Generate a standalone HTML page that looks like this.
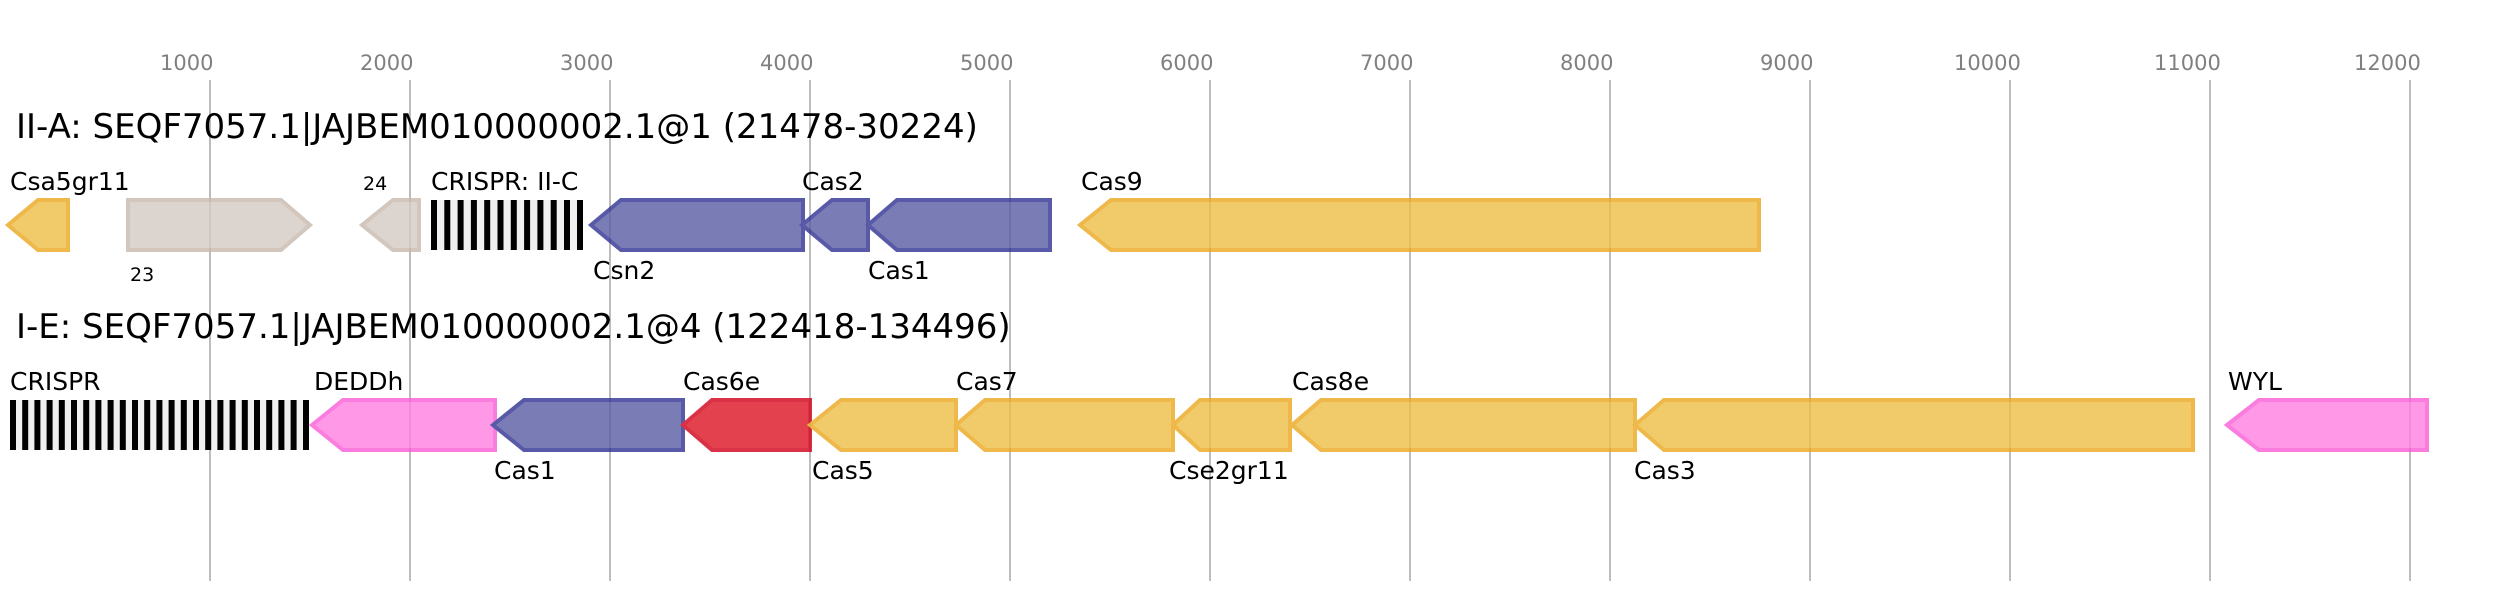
<!DOCTYPE html>
<html><head><meta charset="utf-8"><style>
html,body{margin:0;padding:0;background:#fff;}
svg{display:block;}
text{font-family:"DejaVu Sans","Liberation Sans",sans-serif;}
</style></head><body>
<svg width="2516" height="600" viewBox="0 0 2516 600" xmlns="http://www.w3.org/2000/svg">
<g stroke="#bdbdbd" stroke-width="2">
<line x1="210" y1="80" x2="210" y2="581"/><line x1="410" y1="80" x2="410" y2="581"/>
<line x1="610" y1="80" x2="610" y2="581"/><line x1="810" y1="80" x2="810" y2="581"/>
<line x1="1010" y1="80" x2="1010" y2="581"/><line x1="1210" y1="80" x2="1210" y2="581"/>
<line x1="1410" y1="80" x2="1410" y2="581"/><line x1="1610" y1="80" x2="1610" y2="581"/>
<line x1="1810" y1="80" x2="1810" y2="581"/><line x1="2010" y1="80" x2="2010" y2="581"/>
<line x1="2210" y1="80" x2="2210" y2="581"/><line x1="2410" y1="80" x2="2410" y2="581"/>
</g>
<g fill="#808080" font-size="21">
<text x="160" y="70">1000</text><text x="360" y="70">2000</text><text x="560" y="70">3000</text>
<text x="760" y="70">4000</text><text x="960" y="70">5000</text><text x="1160" y="70">6000</text>
<text x="1360" y="70">7000</text><text x="1560" y="70">8000</text><text x="1760" y="70">9000</text>
<text x="1954" y="70">10000</text><text x="2154" y="70">11000</text><text x="2354" y="70">12000</text>
</g>
<text x="16" y="138" font-size="34" fill="#000">II-A: SEQF7057.1|JAJBEM010000002.1@1 (21478-30224)</text>
<text x="16" y="338" font-size="34" fill="#000">I-E: SEQF7057.1|JAJBEM010000002.1@4 (122418-134496)</text>
<g stroke-width="4" opacity="0.8">
<!-- row 1 -->
<polygon points="8,225 38,200 68,200 68,250 38,250" fill="#eebd46" stroke="#eba81d"/>
<polygon points="128,200 281,200 310,225 281,250 128,250" fill="#d4cac4" stroke="#c8b9ad"/>
<polygon points="362,225 393,200 419,200 419,250 393,250" fill="#d4cac4" stroke="#c8b9ad"/>
<polygon points="591,225 621,200 803,200 803,250 621,250" fill="#5a5ca3" stroke="#2f3293"/>
<polygon points="802,225 832,200 868,200 868,250 832,250" fill="#5a5ca3" stroke="#2f3293"/>
<polygon points="868,225 897,200 1050,200 1050,250 897,250" fill="#5a5ca3" stroke="#2f3293"/>
<polygon points="1080,225 1111,200 1759,200 1759,250 1111,250" fill="#eebd46" stroke="#eba81d"/>
<!-- row 2 -->
<polygon points="312,425 343,400 495,400 495,450 343,450" fill="#fe7fe2" stroke="#fb5cd8"/>
<polygon points="493,425 524,400 683,400 683,450 524,450" fill="#5a5ca3" stroke="#2f3293"/>
<polygon points="683,425 712,400 810,400 810,450 712,450" fill="#de1223" stroke="#d00018"/>
<polygon points="810,425 841,400 956,400 956,450 841,450" fill="#eebd46" stroke="#eba81d"/>
<polygon points="956,425 985,400 1173,400 1173,450 985,450" fill="#eebd46" stroke="#eba81d"/>
<polygon points="1173,425 1200,400 1290,400 1290,450 1200,450" fill="#eebd46" stroke="#eba81d"/>
<polygon points="1292,425 1321,400 1635,400 1635,450 1321,450" fill="#eebd46" stroke="#eba81d"/>
<polygon points="1635,425 1664,400 2193,400 2193,450 1664,450" fill="#eebd46" stroke="#eba81d"/>
<polygon points="2227,425 2259,400 2427,400 2427,450 2259,450" fill="#fe7fe2" stroke="#fb5cd8"/>
</g>
<!-- CRISPR arrays -->
<rect x="431" y="200" width="152" height="50" fill="#f0f0f0"/>
<g fill="#000">
<rect x="431" y="200" width="6" height="50"/><rect x="444.3" y="200" width="6" height="50"/>
<rect x="457.6" y="200" width="6" height="50"/><rect x="470.9" y="200" width="6" height="50"/>
<rect x="484.2" y="200" width="6" height="50"/><rect x="497.5" y="200" width="6" height="50"/>
<rect x="510.8" y="200" width="6" height="50"/><rect x="524.1" y="200" width="6" height="50"/>
<rect x="537.4" y="200" width="6" height="50"/><rect x="550.7" y="200" width="6" height="50"/>
<rect x="564" y="200" width="6" height="50"/><rect x="577" y="200" width="6" height="50"/>
</g>
<rect x="10" y="400" width="299" height="50" fill="#f0f0f0"/>
<g fill="#000" id="c2">
<rect x="10" y="400" width="6" height="50"/><rect x="22.2" y="400" width="6" height="50"/>
<rect x="34.4" y="400" width="6" height="50"/><rect x="46.6" y="400" width="6" height="50"/>
<rect x="58.8" y="400" width="6" height="50"/><rect x="71" y="400" width="6" height="50"/>
<rect x="83.2" y="400" width="6" height="50"/><rect x="95.4" y="400" width="6" height="50"/>
<rect x="107.6" y="400" width="6" height="50"/><rect x="119.8" y="400" width="6" height="50"/>
<rect x="132" y="400" width="6" height="50"/><rect x="144.2" y="400" width="6" height="50"/>
<rect x="156.4" y="400" width="6" height="50"/><rect x="168.6" y="400" width="6" height="50"/>
<rect x="180.8" y="400" width="6" height="50"/><rect x="193" y="400" width="6" height="50"/>
<rect x="205.2" y="400" width="6" height="50"/><rect x="217.4" y="400" width="6" height="50"/>
<rect x="229.6" y="400" width="6" height="50"/><rect x="241.8" y="400" width="6" height="50"/>
<rect x="254" y="400" width="6" height="50"/><rect x="266.2" y="400" width="6" height="50"/>
<rect x="278.4" y="400" width="6" height="50"/><rect x="290.6" y="400" width="6" height="50"/>
<rect x="303" y="400" width="6" height="50"/>
</g>
<g fill="#000" font-size="25">
<text x="10" y="190">Csa5gr11</text>
<text x="431" y="190">CRISPR: II-C</text>
<text x="802" y="190">Cas2</text>
<text x="1081" y="190">Cas9</text>
<text x="593" y="279">Csn2</text>
<text x="868" y="279">Cas1</text>
<text x="10" y="390">CRISPR</text>
<text x="314" y="390">DEDDh</text>
<text x="683" y="390">Cas6e</text>
<text x="956" y="390">Cas7</text>
<text x="1292" y="390">Cas8e</text>
<text x="2228" y="390">WYL</text>
<text x="494" y="479">Cas1</text>
<text x="812" y="479">Cas5</text>
<text x="1169" y="479">Cse2gr11</text>
<text x="1634" y="479">Cas3</text>
</g>
<g fill="#000" font-size="19">
<text x="363" y="190">24</text>
<text x="130" y="281">23</text>
</g>
</svg>
</body></html>
